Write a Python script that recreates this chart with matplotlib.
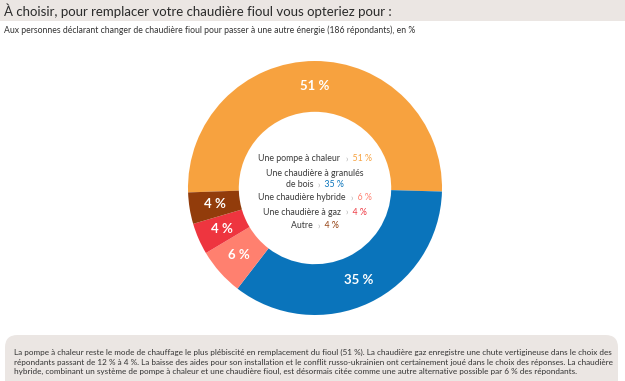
import matplotlib
matplotlib.use("Agg")
import matplotlib.pyplot as plt
from matplotlib.patches import Rectangle, FancyBboxPatch

plt.rcParams['font.family'] = ['Lato', 'DejaVu Sans']

# ---------------------------------------------------------------------------
# Data
# ---------------------------------------------------------------------------
labels = ["Une pompe à chaleur", "Une chaudière à granulés\nde bois",
          "Une chaudière hybride", "Une chaudière à gaz", "Autre"]
values = [51, 35, 6, 4, 4]
colors = ["#F7A23F", "#0A74BB", "#FF806F", "#EE353F", "#923C0B"]

title = "À choisir, pour remplacer votre chaudière fioul vous opteriez pour :"
subtitle = ("Aux personnes déclarant changer de chaudière fioul pour passer à une "
            "autre énergie (186 répondants), en %")
note = ("La pompe à chaleur reste le mode de chauffage le plus plébiscité en remplacement du fioul (51 %). "
        "La chaudière gaz enregistre une chute vertigineuse dans le choix des\n"
        "répondants passant de 12 % à 4 %. La baisse des aides pour son installation et le conflit "
        "russo-ukrainien ont certainement joué dans le choix des réponses. La chaudière\n"
        "hybride, combinant un système de pompe à chaleur et une chaudière fioul, est désormais "
        "citée comme une autre alternative possible par 6 % des répondants.")

W, H = 625, 381
fig = plt.figure(figsize=(W / 100, H / 100), dpi=100)
fig.patch.set_facecolor("white")

# header band and bottom note box
fig.patches.append(Rectangle((0, 1 - 21 / H), 1, 21 / H, transform=fig.transFigure,
                             facecolor="#EBE6E3", edgecolor="none", zorder=0))
fig.patches.append(FancyBboxPatch((5 / W, -0.05), 613 / W, 0.05 + (H - 335) / H,
                                  boxstyle="round,pad=0,rounding_size=0.02",
                                  transform=fig.transFigure, facecolor="#EBE6E3",
                                  edgecolor="none", zorder=0, mutation_aspect=W / H))

fig.text(4 / W, 1 - 11 / H, title, fontsize=9.5, color="#2B2B2B", va="center", ha="left")
fig.text(4 / W, 1 - 30 / H, subtitle, fontsize=6.2, color="#333333", va="center", ha="left")
fig.text(14 / W, 1 - 362 / H, note, fontsize=5.9, color="#333333", va="center", ha="left",
         linespacing=1.45)

# donut
cx, cy, r = 315, 188, 127
half = 131
ax = fig.add_axes([(cx - half) / W, (H - cy - half) / H, 2 * half / W, 2 * half / H])
wedges, _, autotexts = ax.pie(values, colors=colors, startangle=182, counterclock=False,
                              radius=1.0, wedgeprops=dict(width=0.4, linewidth=0),
                              autopct=lambda p: f"{p:.0f} %", pctdistance=0.8)
for t in autotexts:
    t.set_color("white")
    t.set_fontweight("bold")
    t.set_fontsize(9.5)
lim = half / r
ax.set_xlim(-lim, lim)
ax.set_ylim(-lim, lim)
ax.set_aspect("equal")
ax.axis("off")

# central legend: label in dark grey, "›" in light grey, value in slice colour
fig.canvas.draw()
renderer = fig.canvas.get_renderer()
fs = 6.3
line_y = [159, 173, 185, 198, 212, 226]
rows = []
for lab, val, col in zip(labels, values, colors):
    parts = lab.split("\n")
    for p in parts[:-1]:
        rows.append([(p, "#3A3A3A")])
    rows.append([(parts[-1] + "  ", "#3A3A3A"), ("›", "#B0B0B0"), (f"  {val} %", col)])

for row, y in zip(rows, line_y):
    txts = [fig.text(0, 1 - y / H, s, fontsize=fs, color=c, va="center", ha="left")
            for s, c in row]
    widths = [t.get_window_extent(renderer).width for t in txts]
    x = cx - sum(widths) / 2
    for t, w in zip(txts, widths):
        t.set_x(x / W)
        x += w

fig.savefig("out.png", dpi=100)
